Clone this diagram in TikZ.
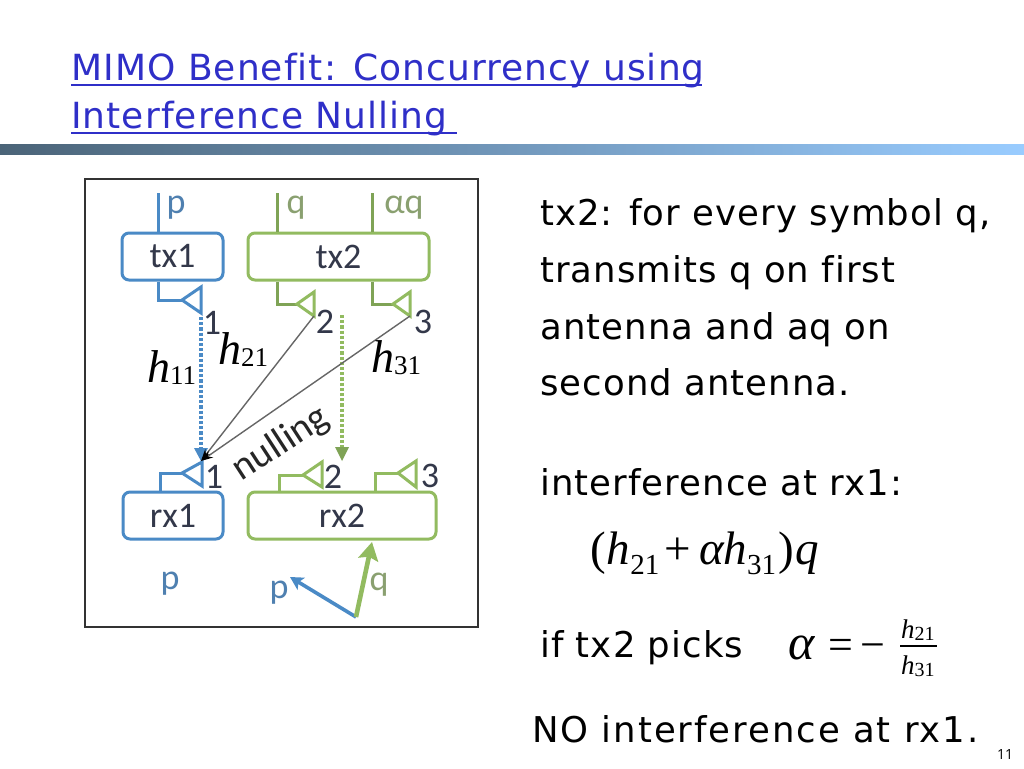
\documentclass[tikz,border=0pt]{standalone}
\usepackage{fontspec}
\usetikzlibrary{arrows.meta,positioning}
\setmainfont{Liberation Serif}
\newfontfamily\bodyf[LetterSpace=3,Ligatures=NoCommon]{DejaVu Sans}
\newfontfamily\bodyg[LetterSpace=5.5,Ligatures=NoCommon]{DejaVu Sans}
\newfontfamily\titlef[LetterSpace=3,Ligatures=NoCommon]{DejaVu Sans}
\newfontfamily\pagef{Open Sans}
\newfontfamily\labf{Carlito}
\newfontfamily\mathf{Liberation Serif}
\newcommand{\bodytext}{\bodyf\fontsize{35.5}{35.5}\selectfont}
\newcommand{\widetext}{\bodyg\fontsize{35.5}{35.5}\selectfont}
\newcommand{\titletext}{\titlef\fontsize{36}{36}\selectfont}
\newcommand{\labtext}{\labf\fontsize{36}{36}\selectfont}
\newcommand{\hs}[3]{{\mathf\fontsize{#1}{#1}\selectfont\itshape h}\raisebox{-0.22em}{\mathf\fontsize{#2}{#2}\selectfont #3}}
\definecolor{bluel}{HTML}{4A8AC6}
\definecolor{greenl}{HTML}{92BB60}
\definecolor{greend}{HTML}{7FA356}
\definecolor{titleb}{HTML}{2F2FC8}
\definecolor{labd}{HTML}{33384A}
\definecolor{labb}{HTML}{4F80B0}
\definecolor{labg}{HTML}{8AA070}
\definecolor{barl}{HTML}{4B6478}
\definecolor{barm}{HTML}{7AA0C6}
\definecolor{barr}{HTML}{99CCFF}
\tikzset{
 boxb/.style={draw=bluel,line width=3pt,rounded corners=7pt,inner sep=0pt,font=\labtext,text=labd},
 boxg/.style={draw=greenl,line width=3pt,rounded corners=7pt,inner sep=0pt,font=\labtext,text=labd},
 wireb/.style={draw=bluel,line width=3pt},
 wireg/.style={draw=greend,line width=3pt},
 antb/.style={draw=bluel,line width=3pt,line join=miter},
 antg/.style={draw=greenl,line width=3pt,line join=miter},
 num/.style={inner sep=0pt,font=\labtext,text=labd},
 sigb/.style={inner sep=0pt,font=\labtext,text=labb},
 sigg/.style={inner sep=0pt,font=\labtext,text=labg},
 body/.style={anchor=base west,inner sep=0pt,font=\bodytext,text=black},
 bodywide/.style={anchor=base west,inner sep=0pt,font=\widetext,text=black},
 ttl/.style={anchor=base west,inner sep=0pt,font=\titletext,text=titleb},
 hlab/.style={anchor=base west,inner sep=0pt,text=black},
 ray/.style={draw=black!60,line width=1.4pt},
}
\begin{document}
\begin{tikzpicture}[x=1pt,y=-1pt]
\useasboundingbox (0,0) rectangle (1024,768);
\fill[white] (0,0) rectangle (1024,768);
% title
\node[ttl] (t1) at (71,80) {MIMO Benefit: Concurrency using};
\node[ttl] (t2) at (71,128) {Interference Nulling};
\draw[titleb,line width=2.2pt] (71,85) -- (702,85);
\draw[titleb,line width=2.2pt] (71,133) -- (457,133);
% bar
\shade[left color=barl,middle color=barm,right color=barr] (0,144) rectangle (1024,154);
% frame
\draw[black!80,line width=1.2pt] (85,179) rectangle (478,627);
% boxes
\node[boxb,minimum width=101pt,minimum height=47pt] (tx1) at (172.5,256.5) {tx1};
\node[boxg,minimum width=181pt,minimum height=47pt] (tx2) at (338.5,256.5) {tx2};
\node[boxb,minimum width=100pt,minimum height=47pt] (rx1) at (173,515.5) {rx1};
\node[boxg,minimum width=188pt,minimum height=47pt] (rx2) at (342,515.5) {rx2};
% input stubs
\coordinate (p0) at (158,193); \coordinate (q0) at (277,193); \coordinate (aq0) at (372,193);
\draw[wireb] (p0) -- (p0 |- tx1.north);
\draw[wireg] (q0) -- (q0 |- tx2.north);
\draw[wireg] (aq0) -- (aq0 |- tx2.north);
% tx antennas
\coordinate (ta1) at (182,300); \coordinate (ta1u) at (201,287); \coordinate (ta1d) at (201,313);
\coordinate (ta2) at (297,304); \coordinate (ta2u) at (314,292); \coordinate (ta2d) at (314,316);
\coordinate (ta3) at (393,304); \coordinate (ta3u) at (410,292); \coordinate (ta3d) at (410,316);
\draw[wireb] (p0 |- tx1.south) |- (ta1);
\draw[antb] (ta1) -- (ta1u) -- (ta1d) -- cycle;
\draw[wireg] (q0 |- tx2.south) |- (ta2);
\draw[antg] (ta2) -- (ta2u) -- (ta2d) -- cycle;
\draw[wireg] (aq0 |- tx2.south) |- (ta3);
\draw[antg] (ta3) -- (ta3u) -- (ta3d) -- cycle;
% rx antennas
\coordinate (ra1) at (182,473); \coordinate (ra1u) at (202,462); \coordinate (ra1d) at (202,486);
\coordinate (ra2) at (303,475); \coordinate (ra2u) at (322,462); \coordinate (ra2d) at (322,487);
\coordinate (ra3) at (398,473); \coordinate (ra3u) at (416,461); \coordinate (ra3d) at (416,487);
\coordinate (rb1) at (160,492); \coordinate (rb2) at (279,492); \coordinate (rb3) at (375,492);
\draw[wireb] (rb1) |- (ra1);
\draw[antb] (ra1) -- (ra1u) -- (ra1d) -- cycle;
\draw[antg] (rb2) |- (ra2);
\draw[antg] (ra2) -- (ra2u) -- (ra2d) -- cycle;
\draw[antg] (rb3) |- (ra3);
\draw[antg] (ra3) -- (ra3u) -- (ra3d) -- cycle;
% channels
\coordinate (rxt) at (201,461);
\coordinate (g0) at (342,315); \coordinate (g1) at (342,461);
\coordinate (b0) at (201,317);
\draw[bluel,line width=3.2pt,dotted] (b0) -- (201,448);
\fill[bluel] (194,448) -- (208,448) -- (rxt) -- cycle;
\draw[greenl,line width=3.2pt,dotted] (g0) -- (342,449);
\fill[greend] (335,447) -- (349,447) -- (g1) -- cycle;
\draw[ray,-{Stealth[length=12pt,width=8pt,black]}] (ta2d) -- (rxt);
\draw[ray,-{Stealth[length=12pt,width=8pt,black]}] (ta3d) -- (rxt);
% number labels
\node[num] (n1) at (212,323) {1};
\node[num] (n2) at (325,322) {2};
\node[num] (n3) at (423,322) {3};
\node[num] (m1) at (214,477) {1};
\node[num] (m2) at (333,477) {2};
\node[num] (m3) at (430,476) {3};
% signals
\node[sigb] (sp) at (176,208) {p};
\node[sigg] (sq) at (296,208) {q};
\node[sigg] (saq) at (404,208) {αq};
\node[sigb] (rp) at (170,584) {p};
\node[sigb] (rp2) at (279,593) {p};
\node[sigg] (rq) at (379,585) {q};
\coordinate (o) at (356,617);
\coordinate (bt) at (290,577);
\draw[bluel,line width=3.6pt,-{Stealth[length=13pt,width=14pt,inset=3pt]}] (o) -- (bt);
\draw[greenl,line width=4.6pt,-{Stealth[length=18pt,width=20pt,inset=3pt]}] (o) -- (372,542);
% nulling
\node[rotate=33,inner sep=0pt,font=\labf\fontsize{39}{39}\selectfont,text=black!85] (nl) at (281,444) {nulling};
% h labels
\node[hlab] (h11) at (147,382) {\hs{46}{27}{11}};
\node[hlab] (h21) at (218,364) {\hs{46}{27}{21}};
\node[hlab] (h31) at (371,372) {\hs{46}{27}{31}};
% body
\node[body] (b1) at (540,225) {tx2: for every symbol q,};
\node[body] (b2) at (540,282) {transmits q on first};
\node[body] (b3) at (540,339) {antenna and aq on};
\node[body] (b4) at (540,395) {second antenna.};
\node[body] (b5) at (540,495) {interference at rx1:};
\node[body] (b6) at (540,657) {if tx2 picks};
\node[bodywide] (b7) at (532,742) {NO interference at rx1.};
% formula 1
\node[hlab] (f1) at (590,564) {\mathf\fontsize{47}{47}\selectfont (\kern1pt\hs{47}{29}{21}\kern5pt+\kern9pt{\itshape α}\kern-1pt\hs{47}{29}{31}\kern2pt)\kern2pt{\itshape q}};
% formula 2
\node[hlab] (f2) at (788,659) {\mathf\fontsize{50}{50}\selectfont {\itshape α}};
\node[hlab] (f2b) at (828,659) {\mathf\fontsize{44}{44}\selectfont =\kern8pt−};
\node[hlab] (f3) at (901,638) {\hs{27}{20}{21}};
\node[hlab] (f4) at (901,674) {\hs{27}{20}{31}};
\draw[black,line width=1.2pt] (900,646) -- (937,646);
% page number
\node[inner sep=0pt,font=\pagef\fontsize{14}{14}\selectfont] (pg) at (1005,754) {11};
\end{tikzpicture}
\end{document}
